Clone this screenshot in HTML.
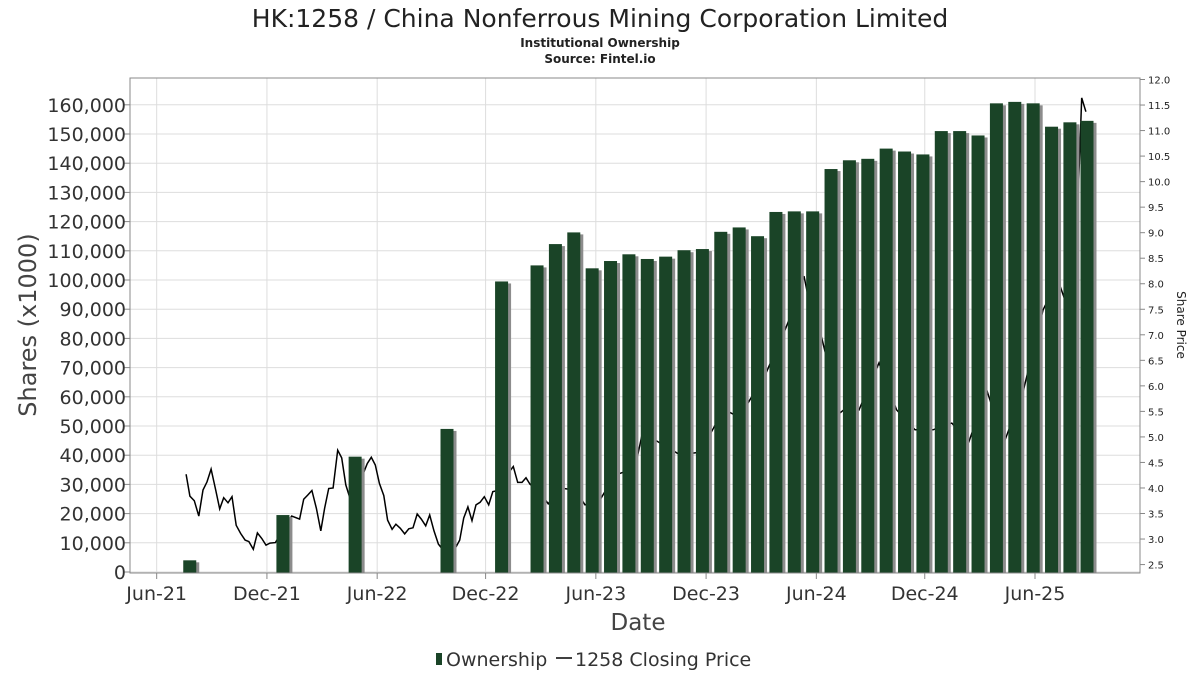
<!DOCTYPE html>
<html><head><meta charset="utf-8"><style>
body{margin:0;background:#fff}
svg text{font-family:"DejaVu Sans","Liberation Sans",sans-serif}
</style></head><body>
<svg id="chart" width="1200" height="675" xmlns="http://www.w3.org/2000/svg">
<rect width="1200" height="675" fill="#fff"/>
<text x="600" y="27" font-size="25" text-anchor="middle" fill="#222">HK:1258 / China Nonferrous Mining Corporation Limited</text>
<text x="600" y="47" font-size="12" font-weight="bold" text-anchor="middle" fill="#222">Institutional Ownership</text>
<text x="600" y="63" font-size="12" font-weight="bold" text-anchor="middle" fill="#222">Source: Fintel.io</text>
<g id="grid"></g><g id="bars"></g><g id="line"></g><g id="axes"></g>
<text transform="translate(36,325) rotate(-90)" font-size="24" text-anchor="middle" fill="#444">Shares (x1000)</text>
<text transform="translate(1177,325) rotate(90)" font-size="12" text-anchor="middle" fill="#222">Share Price</text>
<text x="638" y="630" font-size="23" text-anchor="middle" fill="#444">Date</text>
<g>
<rect x="436" y="653" width="6" height="12" fill="#1a4427"/>
<text x="446" y="666" font-size="19" fill="#333">Ownership</text>
<line x1="556" y1="658" x2="572" y2="658" stroke="#000" stroke-width="1.5"/>
<text x="575" y="666" font-size="19" fill="#333">1258 Closing Price</text>
</g>
</svg>
<script>
const barT=[2.0,7.07,11.0,16.0,18.97,20.9,21.9,22.9,23.9,24.9,25.9,26.9,27.9,28.9,29.9,30.9,31.9,32.9,33.9,34.9,35.9,36.9,37.9,38.9,39.9,40.9,41.9,42.9,43.9,44.9,45.9,46.9,47.9,48.9,49.9,50.83];
const barV=[4000,19500,39500,49000,99500,105000,112300,116300,104000,106500,108800,107200,108000,110200,110600,116500,118000,115000,123300,123500,123500,138000,141000,141500,145000,144000,143000,151000,151000,149500,160500,161000,160500,152500,154000,154500];
const priceT=[1.80,2.01,2.25,2.49,2.72,2.94,3.16,3.41,3.63,3.85,4.08,4.30,4.53,4.77,5.01,5.22,5.46,5.68,5.92,6.15,6.37,6.66,7.07,7.55,7.98,8.20,8.42,8.65,8.89,9.13,9.34,9.56,9.80,10.05,10.27,10.49,10.72,11.10,11.45,11.66,11.88,12.10,12.32,12.56,12.77,13.01,13.22,13.46,13.70,13.92,14.15,14.38,14.60,14.84,15.06,15.29,15.53,16.00,16.47,16.69,16.91,17.14,17.36,17.58,17.80,18.03,18.27,18.49,18.65,19.05,19.61,19.85,20.08,20.30,20.52,21.0,21.51,22.15,22.97,23.51,24.33,25.14,26.23,26.78,27.32,28.68,29.77,30.59,31.13,31.67,32.22,33.31,34.39,34.94,35.43,35.75,36.39,37.39,37.93,38.42,39.51,40.47,41.47,42.45,43.47,44.41,45.37,46.31,47.35,48.44,49.25,49.63,50.34,50.54,50.77];
const priceV=[4.27,3.84,3.75,3.45,3.96,4.12,4.37,3.96,3.59,3.81,3.71,3.83,3.27,3.11,2.98,2.95,2.80,3.12,3.01,2.88,2.92,2.93,3.18,3.45,3.39,3.78,3.86,3.95,3.60,3.16,3.60,3.99,4.00,4.74,4.59,4.06,3.80,3.96,4.29,4.48,4.60,4.45,4.09,3.85,3.37,3.19,3.29,3.21,3.10,3.20,3.22,3.49,3.39,3.26,3.47,3.16,2.90,2.69,2.83,2.98,3.41,3.63,3.36,3.67,3.72,3.83,3.67,3.93,3.94,4.16,4.42,4.11,4.11,4.20,4.07,3.95,3.69,4.00,3.96,3.67,3.77,4.25,4.39,5.33,4.94,4.65,4.70,5.23,5.53,5.43,5.57,6.21,7.09,7.58,8.15,7.58,6.94,5.47,5.63,5.53,6.45,5.53,5.14,5.14,5.27,4.91,5.92,4.88,5.89,7.49,8.07,7.68,9.64,11.64,11.37];
const yTicks=[0,10000,20000,30000,40000,50000,60000,70000,80000,90000,100000,110000,120000,130000,140000,150000,160000];
const y2Ticks=[2.5,3.0,3.5,4.0,4.5,5.0,5.5,6.0,6.5,7.0,7.5,8.0,8.5,9.0,9.5,10.0,10.5,11.0,11.5,12.0];
const xTickT=[0.2,6.2,12.2,18.1,24.1,30.1,36.1,42.0,48.0];
const xTickL=["Jun-21","Dec-21","Jun-22","Dec-22","Jun-23","Dec-23","Jun-24","Dec-24","Jun-25"];
const L=130,R=1140,T=78,B=573;
const x=t=>153+18.375*t;
const y=v=>572-v*(467.2/160000);
const y2=p=>79.5+(12-p)*51.06;
const NS="http://www.w3.org/2000/svg";
function mk(tag,attrs,parent){const e=document.createElementNS(NS,tag);for(const k in attrs)e.setAttribute(k,attrs[k]);parent.appendChild(e);return e;}
const grid=document.getElementById('grid'),bars=document.getElementById('bars'),line=document.getElementById('line'),axes=document.getElementById('axes');
mk('rect',{x:L,y:T,width:R-L,height:B-T,fill:'#fff',stroke:'none'},grid);
yTicks.forEach(v=>{
 const g=mk('line',{x1:L,x2:R,y1:y(v),y2:y(v),stroke:'#ddd','stroke-width':1},grid);
 
 
 mk('line',{x1:L-6,x2:L,y1:y(v),y2:y(v),stroke:'#888'},axes);
 const t=mk('text',{x:L-4,y:y(v)+7,'font-size':19,'text-anchor':'end',fill:'#333'},axes);
 t.textContent=v.toLocaleString('en-US');
 
 
});
y2Ticks.forEach(p=>{
 mk('line',{x1:R,x2:R+5,y1:y2(p),y2:y2(p),stroke:'#888'},axes);
 const t=mk('text',{x:R+8,y:y2(p)+4,'font-size':10,fill:'#222'},axes);
 t.textContent=p.toFixed(1);
 
 
});
xTickT.forEach((tt,i)=>{
 const g=mk('line',{x1:x(tt),x2:x(tt),y1:T,y2:B,stroke:'#ddd'},grid);
 
 
 mk('line',{x1:x(tt),x2:x(tt),y1:B,y2:B+6,stroke:'#888'},axes);
 const t=mk('text',{x:x(tt),y:B+27,'font-size':19,'text-anchor':'middle',fill:'#333'},axes);
 t.textContent=xTickL[i];
 
 
});
barT.forEach((t,i)=>{
 const cx=x(t),top=y(barV[i]);
 mk('rect',{x:cx-3.5,y:top+2,width:13,height:B-top-2,fill:'#8c8c8c'},bars);
 const b=mk('rect',{x:cx-6.5,y:top,width:13,height:B-top,fill:'#1a4427'},bars);
 
 
});
const pl=mk('polyline',{points:priceT.map((t,i)=>x(t).toFixed(1)+','+y2(priceV[i]).toFixed(1)).join(' '),fill:'none',stroke:'#000','stroke-width':1.5},line);


const fr=mk('rect',{x:L,y:T,width:R-L,height:B-T,fill:'none',stroke:'#888'},axes);


// redraw bars over line? line appears behind bars in reference
document.getElementById('chart').insertBefore(line,bars);
</script>
</body></html>
